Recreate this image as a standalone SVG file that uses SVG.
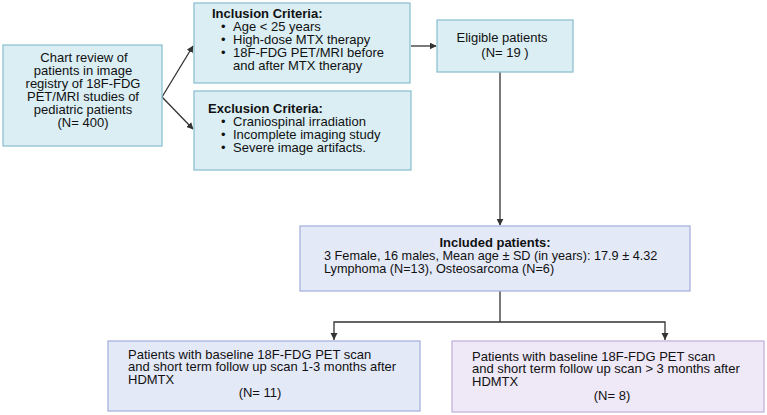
<svg xmlns="http://www.w3.org/2000/svg" width="767" height="415" viewBox="0 0 767 415">
<defs>
<style>
.t{font-family:"Liberation Sans",Arial,sans-serif;font-size:13px;fill:#111}
.s{font-size:12.7px}
.b{font-weight:bold}
.c{text-anchor:middle}
.blue{fill:#daeef4;stroke:#8fc2d2;stroke-width:1.3}
.lav{fill:#e4e9f8;stroke:#a8b3df;stroke-width:1.3}
.pur{fill:#eee8f7;stroke:#c3b3de;stroke-width:1.3}
.ln{fill:none;stroke:#333;stroke-width:1.3}
</style>
<marker id="ah" viewBox="0 0 10 10" refX="9" refY="5" markerWidth="7" markerHeight="7" orient="auto" markerUnits="userSpaceOnUse">
<path d="M0,0 L10,5 L0,10 z" fill="#333"/>
</marker>
</defs>
<rect width="767" height="415" fill="#fff"/>
<g id="connectors">
<line class="ln" x1="162" y1="97" x2="193" y2="46" marker-end="url(#ah)"/>
<line class="ln" x1="162" y1="97" x2="193" y2="129" marker-end="url(#ah)"/>
<line class="ln" x1="411" y1="46" x2="436" y2="46" marker-end="url(#ah)"/>
<line class="ln" x1="500" y1="72" x2="500" y2="225" marker-end="url(#ah)"/>
<line class="ln" x1="500" y1="291" x2="500" y2="322"/>
<polyline class="ln" points="334,340 334,322 665,322 665,340"/>
<path d="M330.5,333 L337.5,333 L334,340 z" fill="#333"/>
<path d="M661.5,333 L668.5,333 L665,340 z" fill="#333"/>
</g>
<g id="chart-review">
<rect class="blue" x="3" y="45" width="159" height="101"/>
<text class="t c" x="84" y="62">Chart review of</text>
<text class="t c" x="83" y="75">patients in image</text>
<text class="t c" x="83" y="88">registry of 18F-FDG</text>
<text class="t c" x="83" y="101">PET/MRI studies of</text>
<text class="t c" x="83" y="114">pediatric patients</text>
<text class="t c" x="83" y="127">(N= 400)</text>
</g>
<g id="inclusion">
<rect class="blue" x="194" y="3" width="216" height="80"/>
<text class="t b" x="212" y="18">Inclusion Criteria:</text>
<text class="t" x="221" y="31">•</text><text class="t" x="233" y="31">Age &lt; 25 years</text>
<text class="t" x="221" y="44">•</text><text class="t" x="233" y="44">High-dose MTX therapy</text>
<text class="t" x="221" y="57">•</text><text class="t" x="233" y="57">18F-FDG PET/MRI before</text>
<text class="t" x="233" y="70">and after MTX therapy</text>
</g>
<g id="exclusion">
<rect class="blue" x="194" y="91" width="217" height="79"/>
<text class="t b" x="208" y="113">Exclusion Criteria:</text>
<text class="t" x="221" y="126">•</text><text class="t" x="233" y="126">Craniospinal irradiation</text>
<text class="t" x="221" y="139">•</text><text class="t" x="233" y="139">Incomplete imaging study</text>
<text class="t" x="221" y="152">•</text><text class="t" x="233" y="152">Severe image artifacts.</text>
</g>
<g id="eligible">
<rect class="blue" x="437" y="20" width="136" height="52"/>
<text class="t c" x="502" y="42">Eligible patients</text>
<text class="t c" x="505" y="57">(N= 19 )</text>
</g>
<g id="included">
<rect class="lav" x="300" y="226" width="390" height="65"/>
<text class="t b c" x="495" y="247">Included patients:</text>
<text class="t s" x="324" y="260">3 Female, 16 males, Mean age ± SD (in years): 17.9 ± 4.32</text>
<text class="t s" x="324" y="273">Lymphoma (N=13), Osteosarcoma (N=6)</text>
</g>
<g id="group-1-3">
<rect class="lav" x="108" y="341" width="312" height="70"/>
<text class="t" x="128" y="359">Patients with baseline 18F-FDG PET scan</text>
<text class="t" x="128" y="371">and short term follow up scan 1-3 months after</text>
<text class="t" x="128" y="384">HDMTX</text>
<text class="t c" x="260" y="397">(N= 11)</text>
</g>
<g id="group-gt3">
<rect class="pur" x="452" y="341" width="312" height="71"/>
<text class="t" x="472" y="361">Patients with baseline 18F-FDG PET scan</text>
<text class="t" x="472" y="373">and short term follow up scan &gt; 3 months after</text>
<text class="t" x="472" y="386">HDMTX</text>
<text class="t c" x="612" y="400">(N= 8)</text>
</g>
</svg>
